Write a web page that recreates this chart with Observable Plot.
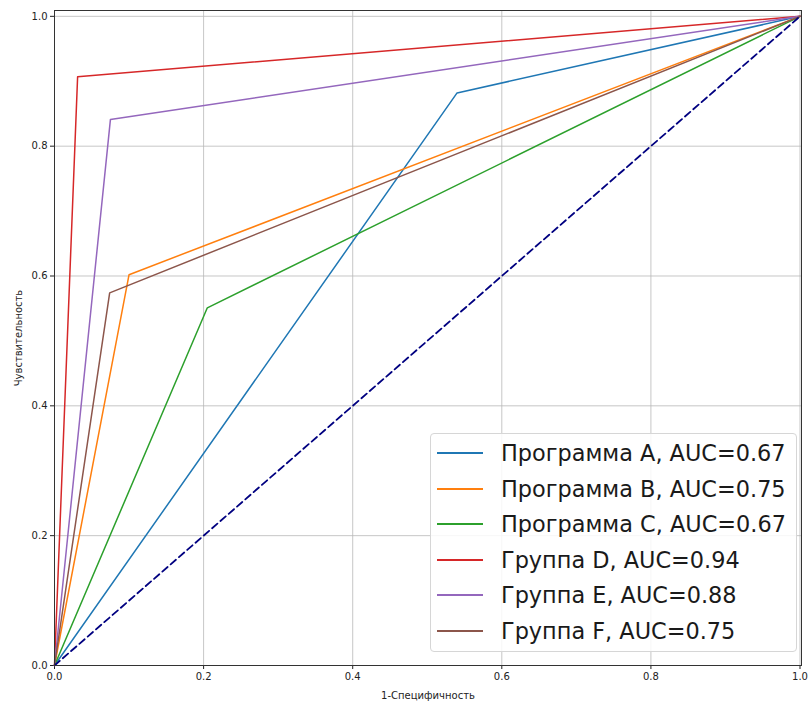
<!DOCTYPE html>
<html>
<head>
<meta charset="utf-8">
<script src="https://cdn.jsdelivr.net/npm/d3@7"></script>
<script src="https://cdn.jsdelivr.net/npm/@observablehq/plot@0.6"></script>
<style>
  html, body { margin: 0; padding: 0; background: #fff; }
  #wrap { position: relative; width: 811px; height: 702px; font-family: "DejaVu Sans", sans-serif; }
  #legend { position: absolute; left: 430px; top: 433px; width: 367px; height: 219px;
    border: 1px solid #d6d6d6; border-radius: 4px; background: rgba(255,255,255,0.85); box-sizing: border-box; }
  .row { position: absolute; left: 0; height: 36px; display: flex; align-items: center; }
  .row svg { margin-left: 6px; margin-right: 18px; }
  .row span { font-size: 22.4px; color: #1a1a1a; white-space: nowrap; }
</style>
</head>
<body>
<div id="wrap"></div>
<script>
// ---- data ----
const seriesNames = ["Программа A", "Программа B", "Программа C", "Группа D", "Группа E", "Группа F"];
const aucValues   = [0.67, 0.75, 0.67, 0.94, 0.88, 0.75];
const fprA = [0, 0.54, 1],  tprA = [0, 0.882, 1];
const fprB = [0, 0.10, 1],  tprB = [0, 0.602, 1];
const fprC = [0, 0.205, 1], tprC = [0, 0.551, 1];
const fprD = [0, 0.031, 1], tprD = [0, 0.907, 1];
const fprE = [0, 0.075, 1], tprE = [0, 0.841, 1];
const fprF = [0, 0.074, 1], tprF = [0, 0.574, 1];
const diagX = [0, 1], diagY = [0, 1];
const tickValues = [0, 0.2, 0.4, 0.6, 0.8, 1.0];
const xLabel = "1-Специфичность";
const yLabel = "Чувствительность";

// ---- styles ----
const seriesColors = ["#1f77b4", "#ff7f0e", "#2ca02c", "#d62728", "#9467bd", "#8c564b"];

const fprs = [fprA, fprB, fprC, fprD, fprE, fprF];
const tprs = [tprA, tprB, tprC, tprD, tprE, tprF];
const rows = [];
seriesNames.forEach((name, i) => {
  fprs[i].forEach((f, j) => rows.push({series: `${name}, AUC=${aucValues[i].toFixed(2)}`, fpr: f, tpr: tprs[i][j]}));
});
const diag = diagX.map((x, i) => ({fpr: x, tpr: diagY[i]}));
const labels = seriesNames.map((n, i) => `${n}, AUC=${aucValues[i].toFixed(2)}`);

const chart = Plot.plot({
  width: 811,
  height: 702,
  marginLeft: 54,
  marginRight: 10,
  marginTop: 10,
  marginBottom: 37,
  style: {fontFamily: "DejaVu Sans", fontSize: "10px", color: "#222", background: "#fff"},
  x: {domain: [0, 1.002]},
  y: {domain: [0, 1.009]},
  color: {domain: labels, range: seriesColors},
  marks: [
    Plot.gridX(tickValues, {stroke: "#b8b8b8", strokeOpacity: 0.8}),
    Plot.gridY(tickValues, {stroke: "#b8b8b8", strokeOpacity: 0.8}),
    Plot.axisX({ticks: tickValues, tickFormat: d => d.toFixed(1), tickSize: 4, tickPadding: 3,
      label: xLabel, labelAnchor: "center", labelOffset: 33, labelArrow: "none"}),
    Plot.axisY({ticks: tickValues, tickFormat: d => d.toFixed(1), tickSize: 4, tickPadding: 3,
      label: yLabel, labelAnchor: "center", labelOffset: 40, labelArrow: "none"}),
    Plot.line(rows, {x: "fpr", y: "tpr", z: "series", stroke: "series", strokeWidth: 1.5}),
    Plot.line(diag, {x: "fpr", y: "tpr", stroke: "#000080", strokeWidth: 1.8, strokeDasharray: "7,4"}),
    Plot.frame({stroke: "#333", strokeWidth: 1})
  ]
});

const wrap = document.getElementById("wrap");
wrap.appendChild(chart);

const legend = document.createElement("div");
legend.id = "legend";
labels.forEach((lab, i) => {
  const r = document.createElement("div");
  r.className = "row";
  r.style.top = (1 + i * 35.5) + "px";
  r.innerHTML = `<svg width="46" height="4"><line x1="0" y1="2" x2="46" y2="2" stroke="${seriesColors[i]}" stroke-width="2"/></svg><span>${lab}</span>`;
  legend.appendChild(r);
});
wrap.appendChild(legend);
</script>
</body>
</html>
